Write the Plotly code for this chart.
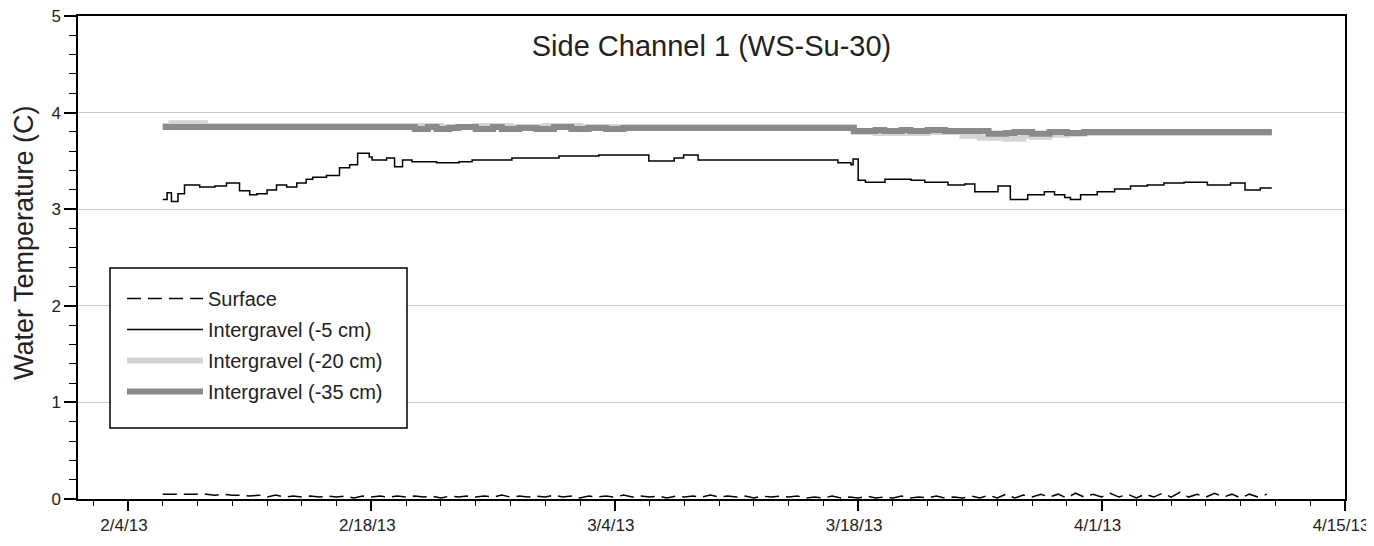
import pandas as pd
import plotly.graph_objects as go

# ---------------- data ----------------
title_text = "Side Channel 1 (WS-Su-30)"
y_title = "Water Temperature (C)"
series_names = ["Surface", "Intergravel (-5 cm)", "Intergravel (-20 cm)", "Intergravel (-35 cm)"]

# Surface: twice-daily readings starting 2013-02-06 00:00
surface_start = "2013-02-06 00:00"
surface_vals = [
    0.05, 0.05, 0.05, 0.05, 0.05, 0.05, 0.04, 0.05, 0.04, 0.04, 0.03, 0.04, 0.02, 0.04,
    0.02, 0.03, 0.02, 0.03, 0.02, 0.03, 0.02, 0.03, 0.01, 0.03, 0.02, 0.03, 0.02, 0.03,
    0.02, 0.03, 0.02, 0.03, 0.01, 0.03, 0.02, 0.03, 0.02, 0.03, 0.02, 0.04, 0.02, 0.03,
    0.02, 0.03, 0.02, 0.04, 0.02, 0.03, 0.01, 0.03, 0.02, 0.03, 0.02, 0.04, 0.02, 0.03,
    0.02, 0.03, 0.01, 0.03, 0.02, 0.03, 0.02, 0.04, 0.02, 0.03, 0.02, 0.03, 0.01, 0.03,
    0.02, 0.03, 0.02, 0.03, 0.01, 0.02, 0.01, 0.03, 0.01, 0.02, 0.01, 0.03, 0.01, 0.02,
    0.01, 0.03, 0.01, 0.02, 0.01, 0.03, 0.01, 0.02, 0.01, 0.03, 0.01, 0.04, 0.01, 0.05,
    0.01, 0.04, 0.02, 0.05, 0.02, 0.05, 0.01, 0.06, 0.02, 0.05, 0.02, 0.06, 0.02, 0.05,
    0.01, 0.05, 0.02, 0.06, 0.02, 0.07, 0.02, 0.05, 0.02, 0.06, 0.02, 0.05, 0.01, 0.05,
    0.02, 0.05,
]

# Intergravel -5 cm (step changes)
ig5_dates = [
    "2013-02-06 00:00", "2013-02-06 06:00", "2013-02-06 12:00", "2013-02-06 21:00",
    "2013-02-07 06:00", "2013-02-08 03:00", "2013-02-09 00:00", "2013-02-09 16:00",
    "2013-02-10 10:00", "2013-02-11 00:00", "2013-02-11 10:00", "2013-02-12 00:00",
    "2013-02-12 13:00", "2013-02-13 03:00", "2013-02-13 17:00", "2013-02-14 06:00",
    "2013-02-14 15:00", "2013-02-15 10:00", "2013-02-16 04:00", "2013-02-16 18:00",
    "2013-02-17 05:00", "2013-02-17 21:00", "2013-02-18 01:00", "2013-02-18 21:00",
    "2013-02-19 08:00", "2013-02-19 19:00", "2013-02-20 08:00", "2013-02-21 18:00",
    "2013-02-23 01:00", "2013-02-23 19:00", "2013-02-24 18:00", "2013-02-26 02:00",
    "2013-02-27 15:00", "2013-02-28 19:00", "2013-03-03 02:00", "2013-03-04 19:00",
    "2013-03-05 23:00", "2013-03-07 10:00", "2013-03-07 23:00", "2013-03-08 19:00",
    "2013-03-11 17:00", "2013-03-14 13:00", "2013-03-16 17:00", "2013-03-16 20:00",
    "2013-03-17 14:00", "2013-03-17 17:00", "2013-03-18 00:00", "2013-03-18 10:00",
    "2013-03-19 13:00", "2013-03-21 01:00", "2013-03-21 20:00", "2013-03-23 04:00",
    "2013-03-24 03:00", "2013-03-24 17:00", "2013-03-25 15:00", "2013-03-26 01:00",
    "2013-03-26 18:00", "2013-03-27 08:00", "2013-03-27 18:00", "2013-03-28 17:00",
    "2013-03-29 07:00", "2013-03-29 21:00", "2013-03-30 05:00", "2013-03-30 19:00",
    "2013-03-31 18:00", "2013-04-01 18:00", "2013-04-02 16:00", "2013-04-03 15:00",
    "2013-04-04 14:00", "2013-04-05 18:00", "2013-04-07 02:00", "2013-04-08 10:00",
    "2013-04-09 00:00", "2013-04-09 06:00", "2013-04-10 03:00", "2013-04-10 19:00",
]
ig5_vals = [
    3.10, 3.17, 3.08, 3.16,
    3.25, 3.23, 3.24, 3.27,
    3.19, 3.15, 3.16, 3.20,
    3.25, 3.23, 3.27, 3.31,
    3.33, 3.35, 3.43, 3.46,
    3.58, 3.54, 3.51, 3.53,
    3.44, 3.51, 3.49, 3.48,
    3.49, 3.51, 3.51, 3.53,
    3.53, 3.55, 3.56, 3.56,
    3.50, 3.53, 3.56, 3.51,
    3.51, 3.51, 3.51, 3.48,
    3.46, 3.52, 3.30, 3.28,
    3.31, 3.30, 3.28, 3.25,
    3.26, 3.18, 3.18, 3.24,
    3.10, 3.10, 3.15, 3.18,
    3.15, 3.12, 3.10, 3.15,
    3.18, 3.21, 3.24, 3.25,
    3.27, 3.28, 3.25, 3.27,
    3.27, 3.20, 3.22, 3.22,
]

# Intergravel -20 cm
ig20_dates = [
    "2013-02-06 00:00", "2013-02-06 12:00", "2013-02-08 10:00", "2013-02-20 12:00",
    "2013-02-22 00:00", "2013-02-24 00:00", "2013-02-26 00:00", "2013-02-28 00:00",
    "2013-03-02 00:00", "2013-03-04 00:00", "2013-03-17 18:00", "2013-03-19 00:00",
    "2013-03-22 00:00", "2013-03-24 00:00", "2013-03-25 00:00", "2013-03-26 12:00",
    "2013-03-27 12:00", "2013-03-28 00:00", "2013-03-29 00:00", "2013-03-30 00:00",
    "2013-03-31 00:00", "2013-04-10 19:00",
]
ig20_vals = [
    3.86, 3.89, 3.86, 3.86,
    3.85, 3.86, 3.85, 3.86,
    3.85, 3.85, 3.80, 3.79,
    3.80, 3.76, 3.74, 3.73,
    3.76, 3.75, 3.77, 3.78,
    3.79, 3.79,
]

# Intergravel -35 cm
ig35_dates = [
    "2013-02-06 00:00", "2013-02-20 12:00", "2013-02-21 06:00", "2013-02-21 18:00",
    "2013-02-22 12:00", "2013-02-23 00:00", "2013-02-24 00:00", "2013-02-25 00:00",
    "2013-02-25 12:00", "2013-02-26 12:00", "2013-02-27 12:00", "2013-02-28 12:00",
    "2013-03-01 12:00", "2013-03-02 12:00", "2013-03-03 12:00", "2013-03-04 12:00",
    "2013-03-17 18:00", "2013-03-19 00:00", "2013-03-19 12:00", "2013-03-20 12:00",
    "2013-03-21 00:00", "2013-03-22 00:00", "2013-03-23 00:00", "2013-03-25 12:00",
    "2013-03-26 12:00", "2013-03-27 00:00", "2013-03-28 00:00", "2013-03-29 00:00",
    "2013-03-30 00:00", "2013-03-31 00:00", "2013-04-10 19:00",
]
ig35_vals = [
    3.85, 3.83, 3.85, 3.83,
    3.84, 3.85, 3.83, 3.85,
    3.83, 3.84, 3.83, 3.85,
    3.83, 3.84, 3.83, 3.84,
    3.81, 3.82, 3.81, 3.82,
    3.81, 3.82, 3.81, 3.78,
    3.79, 3.80, 3.78, 3.80,
    3.79, 3.80, 3.80,
]

x_range = ["2013-02-01 03:00", "2013-04-15 00:00"]
x_tick0 = "2013-02-04"
y_range = [0, 5]

# ---------------- figure ----------------
DAY_MS = 86400000
# the page body has a default 8px margin, so the figure starts at (8, 8) on screen
OFF = 8
W, H = 1374 - OFF, 546 - OFF
ML, MR, MT, MB = 78 - OFF, 29, 16 - OFF, 47
PW, PH = W - ML - MR, H - MT - MB

def px_x(px):  # screen x pixel -> paper x
    return (px - OFF - ML) / PW

def px_y(py):  # screen y pixel -> paper y
    return (H - MB - (py - OFF)) / PH

surface_dates = pd.date_range(surface_start, periods=len(surface_vals), freq="12h")

fig = go.Figure()
fig.add_trace(go.Scatter(
    x=surface_dates, y=surface_vals, name=series_names[0], mode="lines",
    legendgroup="a", line=dict(color="black", width=1.5, dash="14px,7px"),
))
fig.add_trace(go.Scatter(
    x=pd.to_datetime(ig5_dates), y=ig5_vals, name=series_names[1], mode="lines",
    legendgroup="b", line=dict(color="black", width=1.5, shape="hv"),
))
fig.add_trace(go.Scatter(
    x=pd.to_datetime(ig20_dates), y=ig20_vals, name=series_names[2], mode="lines",
    legendgroup="c", line=dict(color="#d4d4d4", width=6, shape="hv"),
))
fig.add_trace(go.Scatter(
    x=pd.to_datetime(ig35_dates), y=ig35_vals, name=series_names[3], mode="lines",
    legendgroup="d", line=dict(color="#8a8a8a", width=6, shape="hv"),
))

FONT = "Liberation Sans, Arial, sans-serif"
fig.update_layout(
    width=W, height=H,
    margin=dict(l=ML, r=MR, t=MT, b=MB, autoexpand=False),
    paper_bgcolor="white", plot_bgcolor="white",
    font=dict(family=FONT, color="#222222"),
    title=dict(text=title_text, font=dict(size=29, color="#222222"),
               x=0.5, xref="paper", xanchor="center",
               y=1 - (46 - OFF) / H, yref="container", yanchor="middle"),
    showlegend=True,
    legend=dict(
        x=px_x(122), y=px_y(279), xanchor="left", yanchor="top",
        borderwidth=0, bgcolor="rgba(0,0,0,0)",
        font=dict(size=20, color="#222222"), itemwidth=76,
        traceorder="grouped", tracegroupgap=2,
    ),
    shapes=[dict(
        type="rect", xref="paper", yref="paper", layer="above",
        x0=px_x(110), x1=px_x(407), y0=px_y(428), y1=px_y(268),
        line=dict(color="black", width=1.5), fillcolor="white",
    )],
    annotations=[dict(
        text=y_title, xref="paper", yref="paper", textangle=-90,
        x=px_x(24), y=px_y(243), xanchor="center", yanchor="middle",
        showarrow=False, font=dict(size=27, color="#222222"),
    )],
)
fig.update_xaxes(
    range=x_range, type="date",
    tick0=x_tick0, dtick=14 * DAY_MS, tickformat="%-m/%-d/%y",
    ticks="outside", ticklen=10, tickwidth=1.5, tickcolor="black",
    tickfont=dict(size=17, color="#222222"), ticklabeloverflow="allow",
    ticklabelshift=-4,
    minor=dict(dtick=2 * DAY_MS, tick0=x_tick0, ticks="outside", ticklen=5,
               tickwidth=1, tickcolor="black", showgrid=False),
    showline=True, linecolor="black", linewidth=1.5, mirror=True,
    showgrid=False, zeroline=False,
)
fig.update_yaxes(
    range=y_range, dtick=1, tick0=0,
    ticks="outside", ticklen=12, tickwidth=1.5, tickcolor="black",
    tickfont=dict(size=17, color="#222222"), ticklabeloverflow="allow",
    minor=dict(dtick=0.2, ticks="outside", ticklen=7, tickwidth=1,
               tickcolor="black", showgrid=False),
    showline=True, linecolor="black", linewidth=1.5, mirror=True,
    showgrid=True, gridcolor="#c8c8c8", gridwidth=1, zeroline=False,
)

fig.write_html("out.html")
